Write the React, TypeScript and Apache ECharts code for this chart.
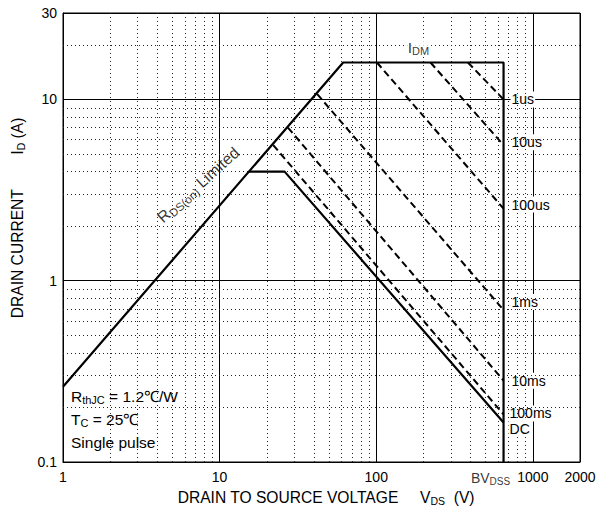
import React, { useEffect, useRef } from "react";
import * as echarts from "echarts";

// ---- tick labels / grid values ----
const xTickLabels = [1, 10, 100, 1000, 2000];
const yTickLabels = [0.1, 1, 10, 30];
const xMinorGrid = [2, 3, 4, 5, 6, 7, 8, 9, 20, 30, 40, 50, 60, 70, 80, 90, 200, 300, 400, 500, 600, 700, 800, 900];
const yMinorGrid = [0.2, 0.3, 0.4, 0.5, 0.6, 0.7, 0.8, 0.9, 2, 3, 4, 5, 6, 7, 8, 9, 20];

// ---- SOA boundary: RDS(on) limit -> IDM -> BVDSS ----
const BV_DSS = 650;
const boundaryV = [1, 61.5, BV_DSS, BV_DSS];
const boundaryI = [0.26, 16, 16, 0.1];

// ---- DC line ----
const dcV = [15.4, 26, BV_DSS];
const dcI = [4, 4, 0.165];

// ---- pulse lines ----
const pulseNames = ["1us", "10us", "100us", "1ms", "10ms", "100ms"];
const pulseStartV = [385, 222, 101, 42, 27.3, 22];
const pulseStartI = [16, 16, 16, 10.7, 7.0, 5.6];
const pulseEndI = [10, 5.6, 2.5, 0.69, 0.281, 0.183];

// ---- annotation anchors ----
const rdsLabelAt = [7.3, 3.38];
const idmLabelAt = [186, 19.4];

const FONT = "'Liberation Sans', Arial, Helvetica, sans-serif";

const labelOffsets: Record<string, number[]> = {
  "1us": [0, 0],
  "10us": [0, -3],
  "100us": [0, -4],
  "1ms": [0, -8],
  "10ms": [0, 0],
  "100ms": [-2, -1],
  DC: [-2, 6],
};

function richSet(main: number, sub: number, lh: number) {
  return {
    a: { fontSize: main, fontFamily: FONT, fontWeight: "normal", color: "#000", lineHeight: lh },
    s: { fontSize: sub, fontFamily: FONT, fontWeight: "normal", color: "#000", verticalAlign: "bottom", lineHeight: lh },
  };
}

const tickRich = richSet(14, 10, 17);
const noteRich = richSet(15.5, 11, 19);
const rdsRich = richSet(16, 11.5, 20);
const titleRich = richSet(15.6, 10.5, 18);

function fmt(v: number, list: number[]) {
  const hit = list.find((t) => Math.abs(t - v) / t < 1e-6);
  return hit === undefined ? "" : String(hit);
}

export default function App() {
  const ref = useRef<HTMLDivElement>(null);
  useEffect(() => {
    if (!ref.current) return;
    const chart = echarts.init(ref.current, undefined, { renderer: "svg" });

    const endLabel = (name: string) => ({
      show: true,
      formatter: name,
      distance: 7,
      offset: labelOffsets[name],
      color: "#000",
      fontSize: 14,
      fontFamily: FONT,
      backgroundColor: "#fff",
      padding: [1, 1],
    });

    const series: any[] = [
      {
        type: "line",
        data: [],
        silent: true,
        z: 1,
        markLine: {
          silent: true,
          symbol: ["none", "none"],
          label: { show: false },
          lineStyle: { type: [1, 3], color: "#222", width: 1 },
          data: [
            ...xMinorGrid.map((v) => ({ xAxis: v })),
            ...yMinorGrid.map((v) => ({ yAxis: v })),
          ],
        },
      },
      {
        type: "line",
        name: "boundary",
        data: boundaryV.map((v, i) => [v, boundaryI[i]]),
        symbol: "none",
        lineStyle: { color: "#000", width: 2.2 },
        z: 5,
      },
      {
        type: "line",
        name: "DC",
        data: dcV.map((v, i) => [v, dcI[i]]),
        symbol: "none",
        lineStyle: { color: "#000", width: 2.2 },
        endLabel: endLabel("DC"),
        z: 5,
      },
      ...pulseNames.map((n, i) => ({
        type: "line",
        name: n,
        data: [
          [pulseStartV[i], pulseStartI[i]],
          [BV_DSS, pulseEndI[i]],
        ],
        symbol: "none",
        lineStyle: { color: "#000", width: 2, type: [7, 4] },
        endLabel: endLabel(n),
        z: 4,
      })),
      {
        type: "scatter",
        symbolSize: 0,
        clip: false,
        silent: true,
        z: 6,
        data: [
          { value: rdsLabelAt, label: { show: true, position: "inside", rotate: 42, formatter: "{a|R}{s|DS(on)}{a| Limited}", rich: rdsRich } },
          { value: idmLabelAt, label: { show: true, position: "inside", formatter: "{a|I}{s|DM}", rich: noteRich, backgroundColor: "#fff", padding: [0, 2] } },
          { value: [BV_DSS, 0.1], label: { show: true, position: "bottom", distance: 7, offset: [-13, 0], formatter: "{a|BV}{s|DSS}", rich: tickRich } },
        ],
      },
    ];

    const note = (y: number, text: string) => ({
      type: "text",
      x: 71,
      y,
      z: 7,
      style: { text, rich: noteRich, verticalAlign: "middle" },
    });

    chart.setOption({
      animation: false,
      backgroundColor: "#fff",
      textStyle: { fontFamily: FONT },
      grid: { left: 63, right: 34, top: 13, bottom: 56, show: true, borderColor: "#000", borderWidth: 1, containLabel: false },
      xAxis: {
        type: "log",
        logBase: 10,
        min: 1,
        max: 2000,
        axisLine: { lineStyle: { color: "#000", width: 1 } },
        axisTick: { show: false },
        splitLine: { show: true, lineStyle: { color: "#000", width: 1 } },
        axisLabel: { color: "#000", fontSize: 14, fontFamily: FONT, margin: 8, formatter: (v: number) => fmt(v, xTickLabels) },
        name: "{a|DRAIN TO SOURCE VOLTAGE     V}{s|DS}{a|  (V)}",
        nameLocation: "middle",
        nameGap: 26,
        nameTextStyle: { fontWeight: "normal", rich: titleRich, padding: [0, 0, 0, 9] },
      },
      yAxis: {
        type: "log",
        logBase: 10,
        min: 0.1,
        max: 30,
        axisLine: { lineStyle: { color: "#000", width: 1 } },
        axisTick: { show: false },
        splitLine: { show: true, lineStyle: { color: "#000", width: 1 } },
        axisLabel: { color: "#000", fontSize: 14, fontFamily: FONT, margin: 6, formatter: (v: number) => fmt(v, yTickLabels) },
        name: "{a|DRAIN CURRENT        I}{s|D}{a| (A)}",
        nameLocation: "middle",
        nameRotate: 90,
        nameGap: 34,
        nameTextStyle: { fontWeight: "normal", rich: titleRich, padding: [0, 0, 0, 39] },
      },
      graphic: [
        { type: "rect", z: 2, shape: { x: 67, y: 385, width: 117, height: 69 }, style: { fill: "#fff" } },
        note(396, "{a|R}{s|thJC}{a| = 1.2℃/W}"),
        note(419, "{a|T}{s|C}{a| = 25℃}"),
        note(442, "{a|Single pulse}"),
      ],
      series,
    });
    return () => chart.dispose();
  }, []);
  return <div ref={ref} style={{ position: "fixed", left: 0, top: 0, width: 614, height: 518, background: "#fff" }} />;
}
